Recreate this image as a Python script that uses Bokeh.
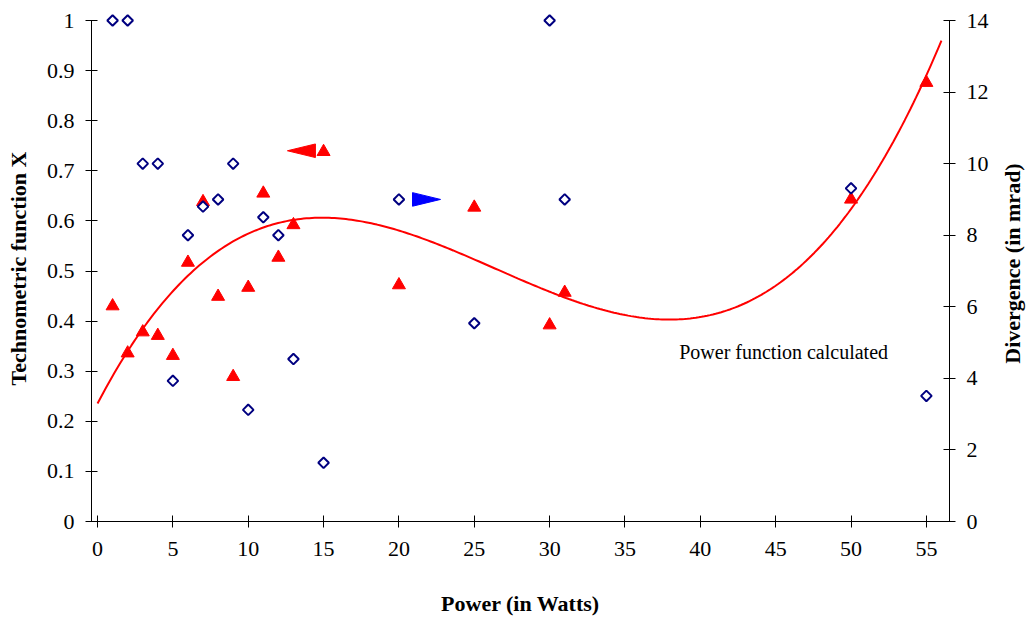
import math
import numpy as np
from bokeh.plotting import figure
from bokeh.models import Range1d, LinearAxis, FixedTicker, Label
from bokeh.embed import file_html
from bokeh.resources import INLINE

# Measurements: laser power vs. technometric function and beam divergence
power_w = [1, 2, 3, 4, 5, 6, 7, 8, 9, 10, 11, 12, 13, 15, 20, 25, 30, 31, 50, 55]
technometric_x = [0.43, 0.336, 0.378, 0.371, 0.331, 0.517, 0.638, 0.449, 0.289, 0.467,
                  0.655, 0.527, 0.592, 0.738, 0.472, 0.627, 0.392, 0.457, 0.643, 0.876]
divergence_mrad = [14, 14, 10, 10, 3.93, 8.0, 8.8, 9.0, 10.0, 3.12,
                   8.5, 8.0, 4.54, 1.64, 9.0, 5.54, 14.0, 9.0, 9.31, 3.51]

# calculated power function (values of the model curve)
model_power = [0, 3, 6, 10, 15, 20, 23.4, 31, 36.7, 40, 45.3, 50, 55, 56]
model_x = [0.235, 0.386, 0.492, 0.57, 0.607, 0.58, 0.547, 0.449, 0.404, 0.404,
           0.472, 0.635, 0.884, 0.962]

x_ticks = [0, 5, 10, 15, 20, 25, 30, 35, 40, 45, 50, 55]
left_ticks = [0, 0.1, 0.2, 0.3, 0.4, 0.5, 0.6, 0.7, 0.8, 0.9, 1]
left_tick_labels = ["0", "0.1", "0.2", "0.3", "0.4", "0.5", "0.6", "0.7", "0.8", "0.9", "1"]
right_ticks = [0, 2, 4, 6, 8, 10, 12, 14]
DIV_MAX = 14

# axis pointers: (tip x, y, direction) -- red points to the left axis, blue to the right axis
red_pointer = (12.6, 0.740, "left")
blue_pointer = (22.76, 9.0, "right")

curve_label = "Power function calculated"
curve_label_pos = (38.6, 0.339)

FONT = "Liberation Serif"
W, H = 1026, 617

# pixel layout: plotting area 91..949 x 20..521; the frame covers the whole
# canvas below a thin top margin, so the axes and their titles sit inside it
TOP = 12
AX_LEFT_PX, AX_RIGHT_PX, AX_TOP_PX, AX_BOTTOM_PX = 91, 949, 20, 521
PX_PER_X = 15.07
PX_PER_Y = AX_BOTTOM_PX - AX_TOP_PX          # pixels per unit on the left axis
X_AXIS_START = -0.4                           # x value at the left axis line
X0 = X_AXIS_START - AX_LEFT_PX / PX_PER_X
X_AXIS_END = X_AXIS_START + (AX_RIGHT_PX - AX_LEFT_PX) / PX_PER_X
X1 = X0 + W / PX_PER_X
Y0 = -(H - AX_BOTTOM_PX) / PX_PER_Y
Y1 = 1.0 + (AX_TOP_PX - TOP) / PX_PER_Y

def xd(px):
    return X0 + px / PX_PER_X

def yd(py):
    return (AX_BOTTOM_PX - py) / PX_PER_Y

p = figure(width=W, height=H, output_backend="svg", toolbar_location=None,
           x_range=Range1d(X0, X1), y_range=Range1d(Y0, Y1),
           min_border_left=0, min_border_right=0,
           min_border_top=TOP, min_border_bottom=0,
           x_axis_location=None, y_axis_location=None)
p.extra_y_ranges = {"div": Range1d(Y0 * DIV_MAX, Y1 * DIV_MAX)}
p.outline_line_color = None
p.grid.visible = False
p.background_fill_color = "white"
p.border_fill_color = "white"

def style_axis(ax, standoff):
    ax.major_label_text_font = FONT
    ax.major_label_text_font_size = "22px"
    ax.major_label_text_color = "black"
    ax.major_label_standoff = standoff
    ax.axis_line_color = "black"
    ax.axis_line_width = 1
    ax.major_tick_line_color = "black"
    ax.major_tick_in = 6
    ax.major_tick_out = 6
    ax.minor_tick_line_color = None

xa = LinearAxis(ticker=FixedTicker(ticks=x_ticks), fixed_location=0,
                bounds=(X_AXIS_START, X_AXIS_END))
style_axis(xa, 14)
p.add_layout(xa, "below")

ya = LinearAxis(ticker=FixedTicker(ticks=left_ticks), fixed_location=X_AXIS_START,
                bounds=(0, 1))
ya.major_label_overrides = {t: s for t, s in zip(left_ticks, left_tick_labels)}
style_axis(ya, 11)
p.add_layout(ya, "left")

ra = LinearAxis(y_range_name="div", ticker=FixedTicker(ticks=right_ticks),
                bounds=(0, DIV_MAX), fixed_location=X_AXIS_END)
style_axis(ra, 11)
p.add_layout(ra, "right")

title_style = dict(text_font=FONT, text_font_size="22px", text_font_style="bold",
                   text_color="black", text_align="center", text_baseline="middle")
p.add_layout(Label(x=xd(18), y=yd(268), angle=math.pi / 2,
                   text="Technometric function X", **title_style))
p.add_layout(Label(x=xd(1012), y=yd(263), angle=math.pi / 2,
                   text="Divergence (in mrad)", **title_style))
p.add_layout(Label(x=(X_AXIS_START + X_AXIS_END) / 2, y=yd(603),
                   text="Power (in Watts)", **title_style))

# smooth model curve through the calculated values
coef = np.polyfit(model_power, model_x, 4)
xs = np.linspace(0, 56, 300)
p.line(xs, np.polyval(coef, xs), line_color="#FF0000", line_width=2)

p.scatter(power_w, technometric_x, marker="triangle", size=13,
          fill_color="#FF0000", line_color="#FF0000")
p.scatter(power_w, divergence_mrad, marker="square", size=7.5, angle=math.pi / 4,
          fill_color="white", line_color="#000080", line_width=2, y_range_name="div")

# pointer arrows, sized in pixels and converted to data units
def pointer(tip, color, yscale, y_range_name="default"):
    tx, ty, d = tip
    length = 28 / PX_PER_X
    half = 6.8 / PX_PER_Y * yscale
    bx = tx + length if d == "left" else tx - length
    p.patch([tx, bx, bx], [ty, ty + half, ty - half], fill_color=color,
            line_color=color, y_range_name=y_range_name)

pointer(red_pointer, "#FF0000", 1.0)
pointer(blue_pointer, "#0000FF", DIV_MAX, "div")

p.add_layout(Label(x=curve_label_pos[0], y=curve_label_pos[1], text=curve_label,
                   text_font=FONT, text_font_size="20px", text_color="black",
                   text_baseline="middle", text_align="left"))

open("out.html", "w").write(file_html(p, INLINE))
